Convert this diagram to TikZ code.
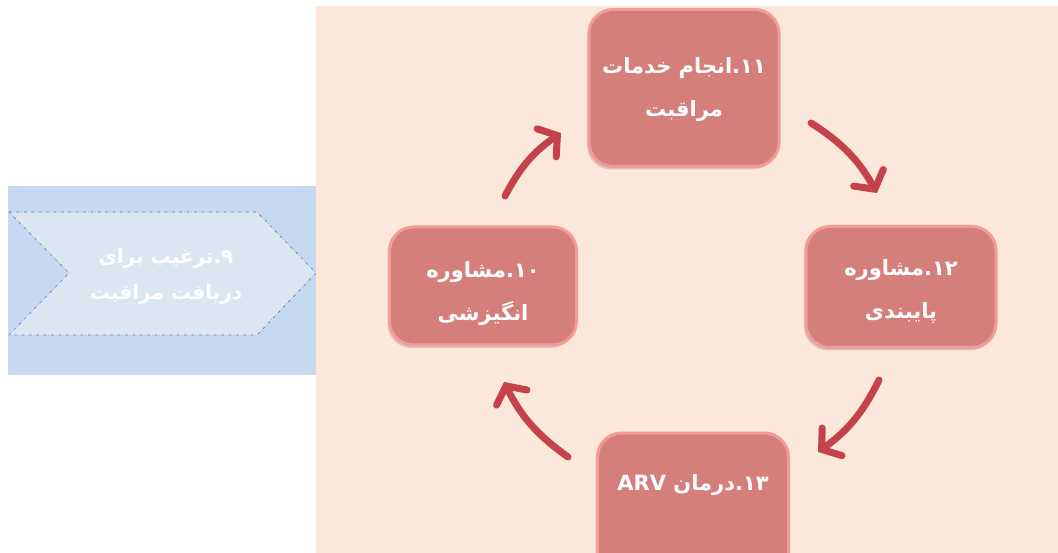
\documentclass[tikz,border=0pt]{standalone}
\usepackage{fontspec}
\usetikzlibrary{arrows.meta,shadows}
\TeXXeTstate=1
\newfontfamily\fa[Script=Arabic]{DejaVu Sans}
\definecolor{peach}{RGB}{252,232,218}
\definecolor{bluebg}{RGB}{198,217,241}
\definecolor{chevfill}{RGB}{220,230,242}
\definecolor{chevline}{RGB}{79,129,189}
\definecolor{boxfill}{RGB}{212,127,124}
\definecolor{boxedge}{RGB}{242,155,151}
\definecolor{arrowcol}{RGB}{196,66,76}
\tikzset{
  stepbox/.style={draw=boxedge, line width=3pt, fill=boxfill, rounded corners=24pt,
    drop shadow={opacity=0.3, shadow xshift=-2pt, shadow yshift=-3pt}},
  steptext/.style={align=center, text=white, inner sep=0pt,
    font=\fa\bfseries\fontsize{21}{43}\selectfont},
  chevtext/.style={align=center, text=white, inner sep=0pt,
    font=\fa\bfseries\fontsize{20}{36}\selectfont},
  cyc/.style={draw=arrowcol, line width=7pt, line cap=round,
    -{Straight Barb[length=13pt,width=34pt,line cap=round]}}
}
\begin{document}
\begin{tikzpicture}[x=1pt,y=-1pt]
\useasboundingbox (0,0) rectangle (1058,553);
\clip (0,0) rectangle (1058,553);
% backgrounds
\fill[peach] (316,6) rectangle (1058,553);
\fill[bluebg] (8,186) rectangle (316,375);
% chevron
\draw[chevline, fill=chevfill, dash dot, line width=0.6pt]
  (9,212) -- (257,212) -- (316,273) -- (257,335) -- (9,335) -- (69,273) -- cycle;
\node[chevtext] (n9) at (166,276)
  {\beginR ۹.ترغیب برای\endR\\\beginR دریافت مراقبت\endR};
% step boxes
\node[stepbox, minimum width=190pt, minimum height=157pt] (n11) at (684,88) {};
\node[stepbox, minimum width=187pt, minimum height=118pt] (n10) at (483,286) {};
\node[stepbox, minimum width=190pt, minimum height=121pt] (n12) at (901,287) {};
\node[stepbox, minimum width=191pt, minimum height=150pt] (n13) at (693,508) {};
% box texts
\node[steptext] (t11) at (684,90) {\beginR ۱۱.انجام خدمات\endR\\\beginR مراقبت\endR};
\node[steptext] (t10) at (483,294) {\beginR ۱۰.مشاوره\endR\\\beginR انگیزشی\endR};
\node[steptext] (t12) at (901,292) {\beginR ۱۲.مشاوره\endR\\\beginR پایبندی\endR};
\node[steptext] (t13) at (693,485)
  {\beginR ۱۳.درمان {\fontspec{DejaVu Sans}\bfseries ARV}\endR};
% cycle arrows
\coordinate (a1s) at (505,196); \coordinate (a1e) at (561,133);
\coordinate (a2s) at (811,123); \coordinate (a2e) at (877,193);
\coordinate (a3s) at (879,380); \coordinate (a3e) at (818,452);
\coordinate (a4s) at (568,457); \coordinate (a4e) at (504,382);
\draw[cyc] (a1s) to[bend left=14] (a1e);
\draw[cyc] (a2s) to[bend left=14] (a2e);
\draw[cyc] (a3s) to[bend left=14] (a3e);
\draw[cyc] (a4s) to[bend left=14] (a4e);
\end{tikzpicture}
\end{document}
